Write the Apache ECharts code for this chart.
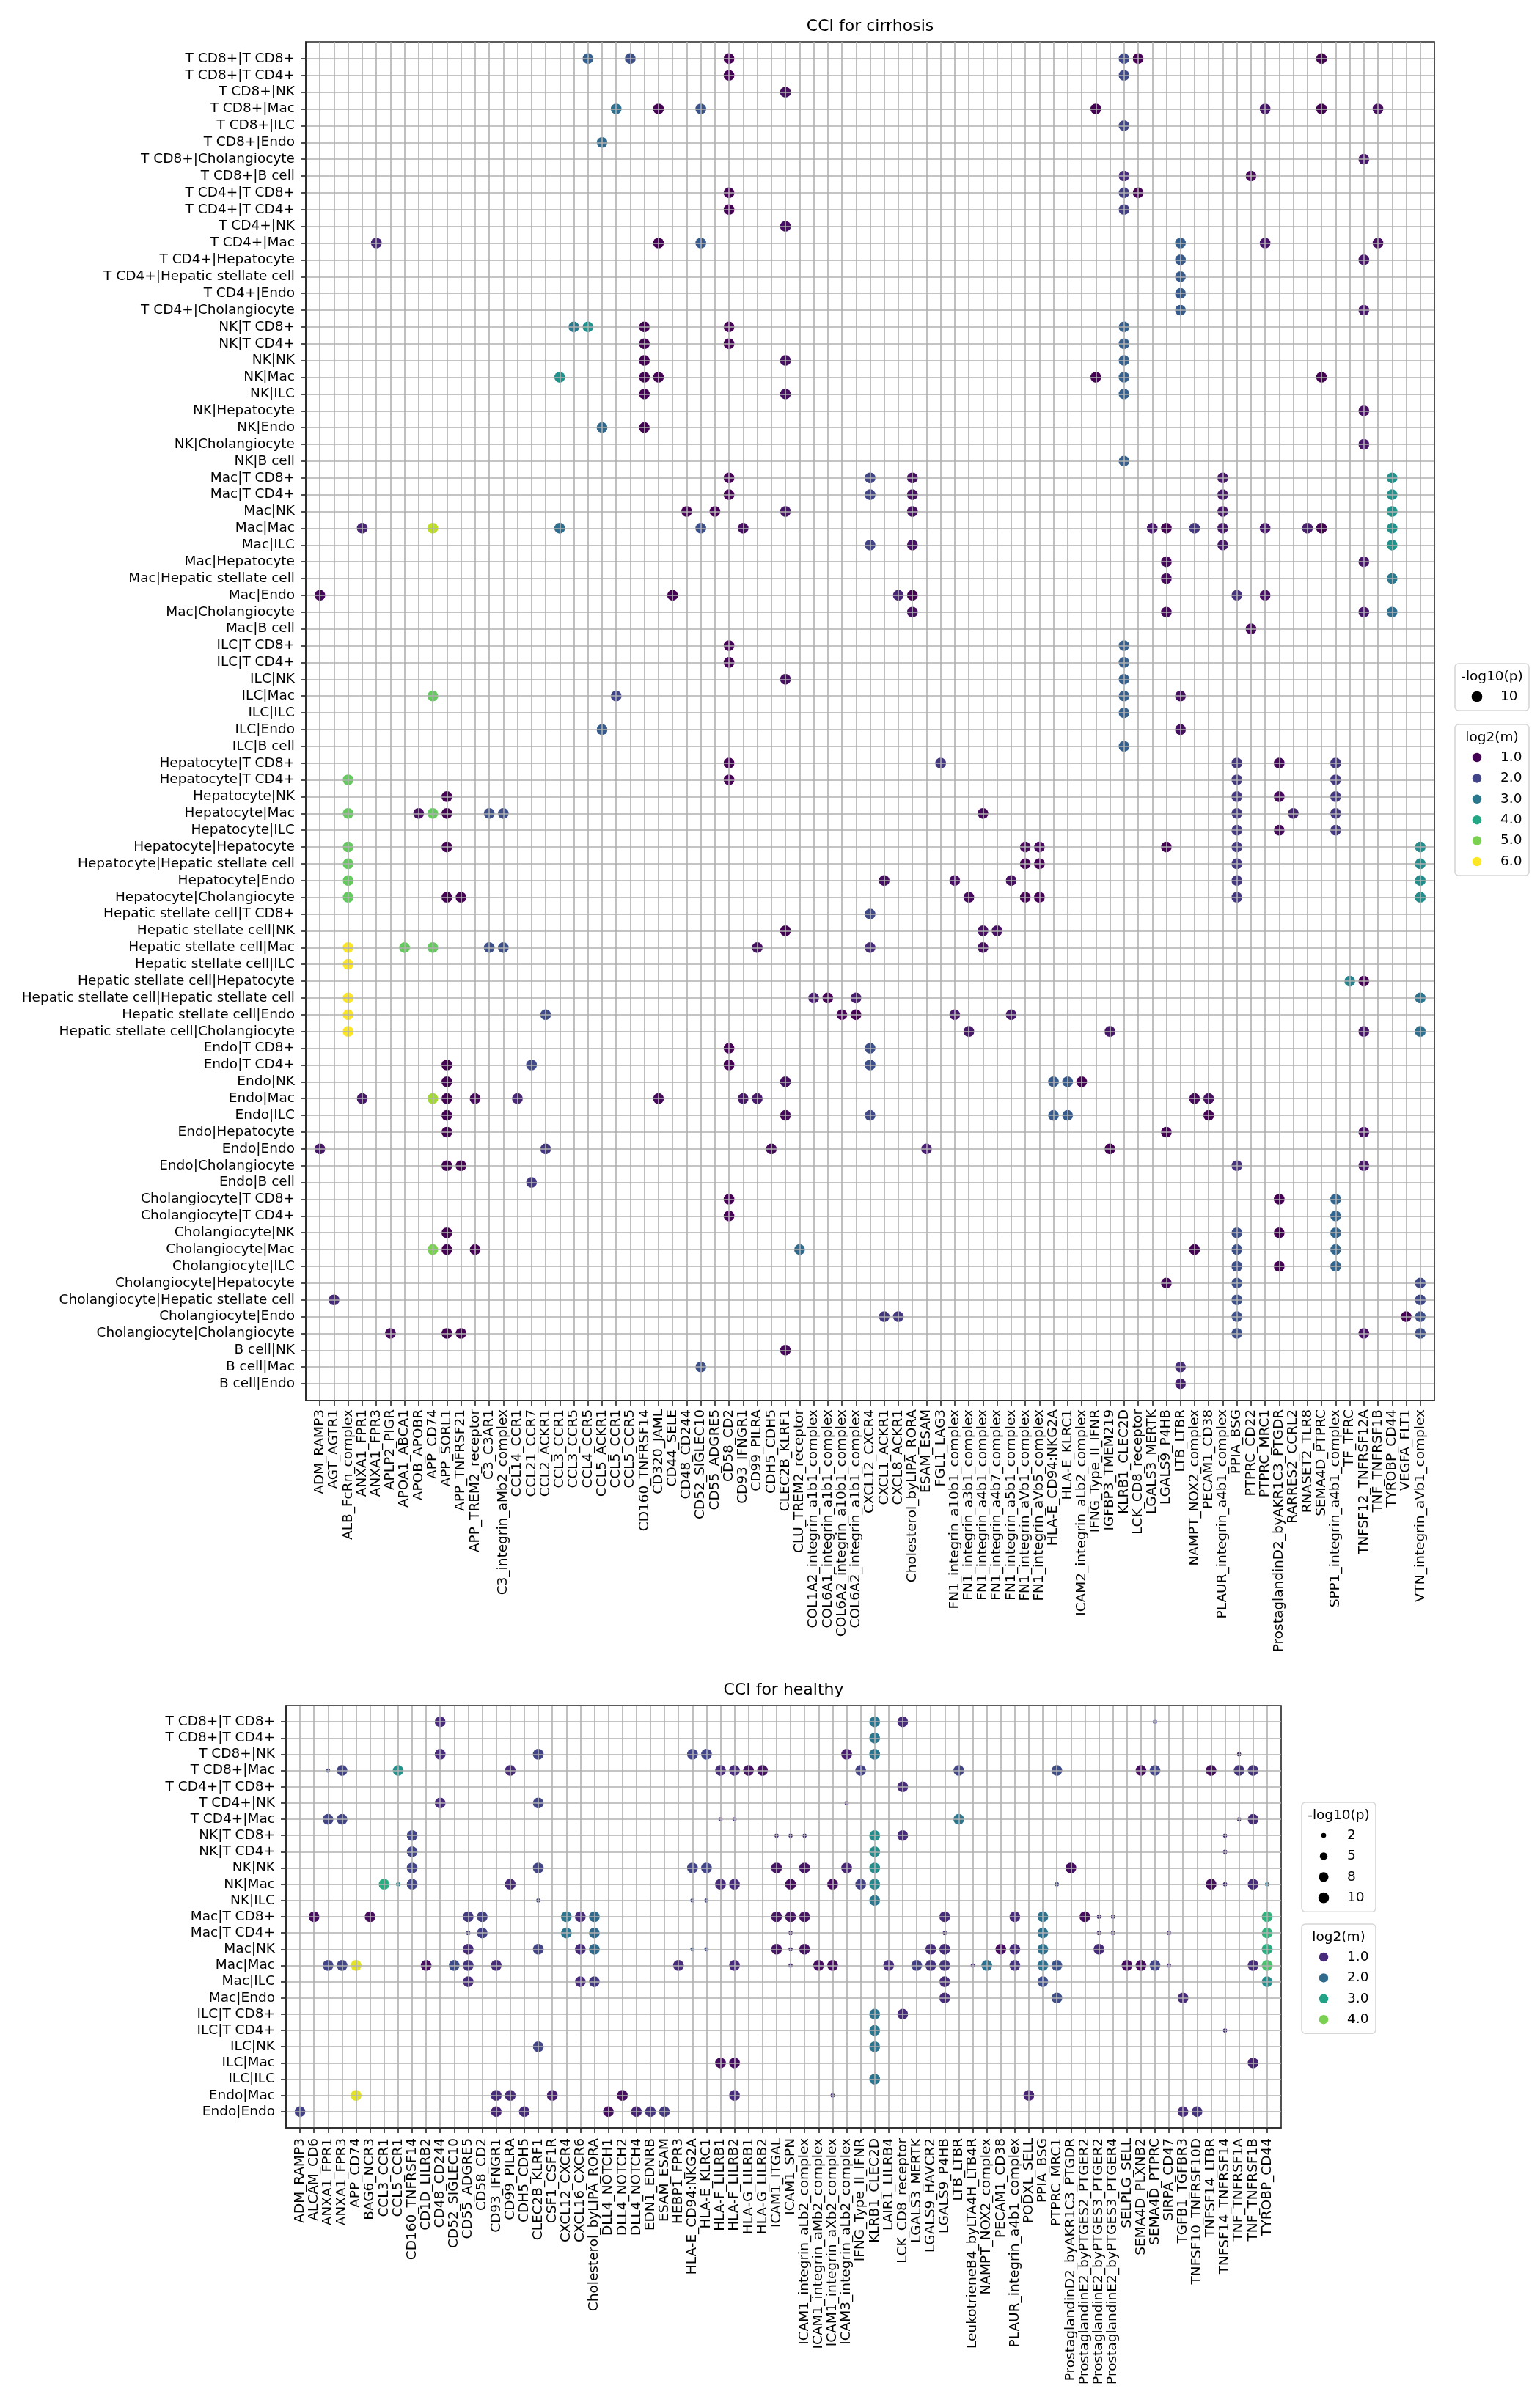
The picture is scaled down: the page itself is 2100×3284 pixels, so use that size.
<!DOCTYPE html>
<html>
<head>
<meta charset="utf-8">
<script src="https://cdn.jsdelivr.net/npm/echarts/dist/echarts.min.js"></script>
<style>
html, body { margin: 0; padding: 0; background: #fff; }
#chart { width: 2100px; height: 3284px; }
</style>
</head>
<body>
<div id="chart"></div>
<script>
// ---- cirrhosis panel ----
var cirrhosisPairs = [
  'T CD8+|T CD8+','T CD8+|T CD4+','T CD8+|NK','T CD8+|Mac','T CD8+|ILC','T CD8+|Endo','T CD8+|Cholangiocyte','T CD8+|B cell',
  'T CD4+|T CD8+','T CD4+|T CD4+','T CD4+|NK','T CD4+|Mac','T CD4+|Hepatocyte','T CD4+|Hepatic stellate cell','T CD4+|Endo','T CD4+|Cholangiocyte',
  'NK|T CD8+','NK|T CD4+','NK|NK','NK|Mac','NK|ILC','NK|Hepatocyte','NK|Endo','NK|Cholangiocyte','NK|B cell',
  'Mac|T CD8+','Mac|T CD4+','Mac|NK','Mac|Mac','Mac|ILC','Mac|Hepatocyte','Mac|Hepatic stellate cell','Mac|Endo','Mac|Cholangiocyte','Mac|B cell',
  'ILC|T CD8+','ILC|T CD4+','ILC|NK','ILC|Mac','ILC|ILC','ILC|Endo','ILC|B cell',
  'Hepatocyte|T CD8+','Hepatocyte|T CD4+','Hepatocyte|NK','Hepatocyte|Mac','Hepatocyte|ILC','Hepatocyte|Hepatocyte','Hepatocyte|Hepatic stellate cell','Hepatocyte|Endo','Hepatocyte|Cholangiocyte',
  'Hepatic stellate cell|T CD8+','Hepatic stellate cell|NK','Hepatic stellate cell|Mac','Hepatic stellate cell|ILC','Hepatic stellate cell|Hepatocyte','Hepatic stellate cell|Hepatic stellate cell','Hepatic stellate cell|Endo','Hepatic stellate cell|Cholangiocyte',
  'Endo|T CD8+','Endo|T CD4+','Endo|NK','Endo|Mac','Endo|ILC','Endo|Hepatocyte','Endo|Endo','Endo|Cholangiocyte','Endo|B cell',
  'Cholangiocyte|T CD8+','Cholangiocyte|T CD4+','Cholangiocyte|NK','Cholangiocyte|Mac','Cholangiocyte|ILC','Cholangiocyte|Hepatocyte','Cholangiocyte|Hepatic stellate cell','Cholangiocyte|Endo','Cholangiocyte|Cholangiocyte',
  'B cell|NK','B cell|Mac','B cell|Endo'
];
var cirrhosisLR = [
  'ADM_RAMP3','AGT_AGTR1','ALB_FcRn_complex','ANXA1_FPR1','ANXA1_FPR3','APLP2_PIGR','APOA1_ABCA1','APOB_APOBR','APP_CD74','APP_SORL1',
  'APP_TNFRSF21','APP_TREM2_receptor','C3_C3AR1','C3_integrin_aMb2_complex','CCL14_CCR1','CCL21_CCR7','CCL2_ACKR1','CCL3_CCR1','CCL3_CCR5','CCL4_CCR5',
  'CCL5_ACKR1','CCL5_CCR1','CCL5_CCR5','CD160_TNFRSF14','CD320_JAML','CD44_SELE','CD48_CD244','CD52_SIGLEC10','CD55_ADGRE5','CD58_CD2',
  'CD93_IFNGR1','CD99_PILRA','CDH5_CDH5','CLEC2B_KLRF1','CLU_TREM2_receptor','COL1A2_integrin_a1b1_complex','COL6A1_integrin_a1b1_complex','COL6A2_integrin_a10b1_complex','COL6A2_integrin_a1b1_complex','CXCL12_CXCR4',
  'CXCL1_ACKR1','CXCL8_ACKR1','Cholesterol_byLIPA_RORA','ESAM_ESAM','FGL1_LAG3','FN1_integrin_a10b1_complex','FN1_integrin_a3b1_complex','FN1_integrin_a4b1_complex','FN1_integrin_a4b7_complex','FN1_integrin_a5b1_complex',
  'FN1_integrin_aVb1_complex','FN1_integrin_aVb5_complex','HLA-E_CD94:NKG2A','HLA-E_KLRC1','ICAM2_integrin_aLb2_complex','IFNG_Type_II_IFNR','IGFBP3_TMEM219','KLRB1_CLEC2D','LCK_CD8_receptor','LGALS3_MERTK',
  'LGALS9_P4HB','LTB_LTBR','NAMPT_NOX2_complex','PECAM1_CD38','PLAUR_integrin_a4b1_complex','PPIA_BSG','PTPRC_CD22','PTPRC_MRC1','ProstaglandinD2_byAKR1C3_PTGDR','RARRES2_CCRL2',
  'RNASET2_TLR8','SEMA4D_PTPRC','SPP1_integrin_a4b1_complex','TF_TFRC','TNFSF12_TNFRSF12A','TNF_TNFRSF1B','TYROBP_CD44','VEGFA_FLT1','VTN_integrin_aVb1_complex'
];
// [pair no., ligand-receptor no., log2(m)]  (1-based, -log10(p) is 10 everywhere)
var cirrhosisDots = [
  [1,20,2.5],[1,23,2.2],[1,30,1.0],[1,58,2.1],[1,59,1.0],[1,72,1.0],
  [2,30,1.0],[2,58,2.1],
  [3,34,1.2],
  [4,22,2.8],[4,25,1.0],[4,28,2.3],[4,56,1.0],[4,68,1.3],[4,72,1.0],[4,76,1.2],
  [5,58,2.0],
  [6,21,2.7],
  [7,75,1.3],
  [8,58,1.6],[8,67,1.1],
  [9,30,1.0],[9,58,1.9],[9,59,1.0],
  [10,30,1.0],[10,58,1.9],
  [11,34,1.2],
  [12,5,1.5],[12,25,1.0],[12,28,2.4],[12,62,2.5],[12,68,1.3],[12,76,1.2],
  [13,62,2.4],[13,75,1.3],
  [14,62,2.4],
  [15,62,2.4],
  [16,62,2.4],[16,75,1.3],
  [17,19,3.0],[17,20,3.5],[17,24,1.0],[17,30,1.0],[17,58,2.5],
  [18,24,1.0],[18,30,1.0],[18,58,2.5],
  [19,24,1.0],[19,34,1.2],[19,58,2.5],
  [20,18,3.5],[20,24,1.0],[20,25,1.0],[20,56,1.0],[20,58,2.5],[20,72,1.0],
  [21,24,1.0],[21,34,1.2],[21,58,2.5],
  [22,75,1.2],
  [23,21,2.7],[23,24,1.0],
  [24,75,1.3],
  [25,58,2.5],
  [26,30,1.0],[26,40,2.0],[26,43,1.2],[26,65,1.3],[26,77,3.5],
  [27,30,1.0],[27,40,2.0],[27,43,1.2],[27,65,1.3],[27,77,3.5],
  [28,27,1.0],[28,29,1.0],[28,34,1.3],[28,43,1.2],[28,65,1.3],[28,77,3.5],
  [29,4,1.5],[29,9,5.5],[29,18,2.8],[29,28,2.2],[29,31,1.2],[29,60,1.3],[29,61,1.0],[29,63,1.8],[29,65,1.3],[29,68,1.3],[29,71,1.4],[29,72,1.0],[29,77,3.5],
  [30,40,2.0],[30,43,1.2],[30,65,1.3],[30,77,3.5],
  [31,61,1.1],[31,75,1.3],
  [32,61,1.1],[32,77,3.0],
  [33,1,1.1],[33,26,1.0],[33,42,1.5],[33,43,1.0],[33,66,1.7],[33,68,1.2],
  [34,43,1.2],[34,61,1.1],[34,75,1.3],[34,77,2.8],
  [35,67,1.1],
  [36,30,1.0],[36,58,2.5],
  [37,30,1.0],[37,58,2.5],
  [38,34,1.2],[38,58,2.5],
  [39,9,4.8],[39,22,2.0],[39,58,2.5],[39,62,1.2],
  [40,58,2.5],
  [41,21,2.4],[41,62,1.2],
  [42,58,2.5],
  [43,30,1.0],[43,45,1.8],[43,66,1.8],[43,69,1.1],[43,73,1.8],
  [44,3,4.8],[44,30,1.0],[44,66,1.8],[44,73,1.8],
  [45,10,1.0],[45,66,1.8],[45,69,1.1],[45,73,1.8],
  [46,3,4.8],[46,8,1.2],[46,9,4.8],[46,10,1.0],[46,13,2.2],[46,14,2.2],[46,48,1.1],[46,66,1.8],[46,70,1.5],[46,73,1.8],
  [47,66,1.8],[47,69,1.1],[47,73,1.8],
  [48,3,4.8],[48,10,1.0],[48,51,1.1],[48,52,1.1],[48,61,1.0],[48,66,1.8],[48,79,3.4],
  [49,3,4.8],[49,51,1.0],[49,52,1.0],[49,66,1.8],[49,79,3.4],
  [50,3,4.8],[50,41,1.2],[50,46,1.2],[50,50,1.2],[50,66,1.8],[50,79,3.4],
  [51,3,4.8],[51,10,1.0],[51,11,1.0],[51,47,1.1],[51,51,1.0],[51,52,1.0],[51,66,1.8],[51,79,3.4],
  [52,40,2.1],
  [53,34,1.0],[53,48,1.2],[53,49,1.2],
  [54,3,6.0],[54,7,4.8],[54,9,4.8],[54,13,2.2],[54,14,2.2],[54,32,1.2],[54,40,1.6],[54,48,1.2],
  [55,3,6.0],
  [56,74,3.2],[56,75,1.0],
  [57,3,6.0],[57,36,1.4],[57,37,1.0],[57,39,1.4],[57,79,2.9],
  [58,3,6.0],[58,17,2.1],[58,38,1.0],[58,39,1.0],[58,46,1.3],[58,50,1.3],
  [59,3,6.0],[59,47,1.3],[59,57,1.3],[59,75,1.3],[59,79,2.8],
  [60,30,1.0],[60,40,2.2],
  [61,10,1.0],[61,16,2.1],[61,30,1.0],[61,40,2.2],
  [62,10,1.0],[62,34,1.2],[62,53,2.4],[62,54,2.4],[62,55,1.0],
  [63,4,1.3],[63,9,5.3],[63,10,1.0],[63,12,1.1],[63,15,1.5],[63,25,1.1],[63,31,1.3],[63,32,1.3],[63,63,1.1],[63,64,1.2],
  [64,10,1.0],[64,34,1.1],[64,40,2.1],[64,53,2.4],[64,54,2.4],[64,64,1.0],
  [65,10,1.0],[65,61,1.0],[65,75,1.2],
  [66,1,1.3],[66,17,1.8],[66,33,1.1],[66,44,1.4],[66,57,1.0],
  [67,10,1.0],[67,11,1.0],[67,66,1.7],[67,75,1.3],
  [68,16,1.8],
  [69,30,1.0],[69,69,1.0],[69,73,2.6],
  [70,30,1.0],[70,73,2.6],
  [71,10,1.0],[71,66,2.2],[71,69,1.0],[71,73,2.6],
  [72,9,5.0],[72,10,1.0],[72,12,1.0],[72,35,2.7],[72,63,1.0],[72,66,2.2],[72,73,2.6],
  [73,66,2.2],[73,69,1.0],[73,73,2.6],
  [74,61,1.1],[74,66,2.2],[74,79,2.1],
  [75,2,1.6],[75,66,2.2],[75,79,2.1],
  [76,41,1.8],[76,42,1.8],[76,66,2.2],[76,78,1.0],[76,79,2.2],
  [77,6,1.1],[77,10,1.0],[77,11,1.0],[77,66,2.2],[77,75,1.2],[77,79,2.2],
  [78,34,1.1],
  [79,28,2.2],[79,62,1.6],
  [80,62,1.4]
];
var cirrhosisP = 10;
var cirrhosisSizeTicks = [10];
var cirrhosisColorTicks = [1.0, 2.0, 3.0, 4.0, 5.0, 6.0];

// ---- healthy panel ----
var healthyPairs = [
  'T CD8+|T CD8+','T CD8+|T CD4+','T CD8+|NK','T CD8+|Mac','T CD4+|T CD8+','T CD4+|NK','T CD4+|Mac',
  'NK|T CD8+','NK|T CD4+','NK|NK','NK|Mac','NK|ILC',
  'Mac|T CD8+','Mac|T CD4+','Mac|NK','Mac|Mac','Mac|ILC','Mac|Endo',
  'ILC|T CD8+','ILC|T CD4+','ILC|NK','ILC|Mac','ILC|ILC',
  'Endo|Mac','Endo|Endo'
];
var healthyLR = [
  'ADM_RAMP3','ALCAM_CD6','ANXA1_FPR1','ANXA1_FPR3','APP_CD74','BAG6_NCR3','CCL3_CCR1','CCL5_CCR1','CD160_TNFRSF14','CD1D_LILRB2',
  'CD48_CD244','CD52_SIGLEC10','CD55_ADGRE5','CD58_CD2','CD93_IFNGR1','CD99_PILRA','CDH5_CDH5','CLEC2B_KLRF1','CSF1_CSF1R','CXCL12_CXCR4',
  'CXCL16_CXCR6','Cholesterol_byLIPA_RORA','DLL4_NOTCH1','DLL4_NOTCH2','DLL4_NOTCH4','EDN1_EDNRB','ESAM_ESAM','HEBP1_FPR3','HLA-E_CD94:NKG2A','HLA-E_KLRC1',
  'HLA-F_LILRB1','HLA-F_LILRB2','HLA-G_LILRB1','HLA-G_LILRB2','ICAM1_ITGAL','ICAM1_SPN','ICAM1_integrin_aLb2_complex','ICAM1_integrin_aMb2_complex','ICAM1_integrin_aXb2_complex','ICAM3_integrin_aLb2_complex',
  'IFNG_Type_II_IFNR','KLRB1_CLEC2D','LAIR1_LILRB4','LCK_CD8_receptor','LGALS3_MERTK','LGALS9_HAVCR2','LGALS9_P4HB','LTB_LTBR','LeukotrieneB4_byLTA4H_LTB4R','NAMPT_NOX2_complex',
  'PECAM1_CD38','PLAUR_integrin_a4b1_complex','PODXL_SELL','PPIA_BSG','PTPRC_MRC1','ProstaglandinD2_byAKR1C3_PTGDR','ProstaglandinE2_byPTGES2_PTGER2','ProstaglandinE2_byPTGES3_PTGER2','ProstaglandinE2_byPTGES3_PTGER4','SELPLG_SELL',
  'SEMA4D_PLXNB2','SEMA4D_PTPRC','SIRPA_CD47','TGFB1_TGFBR3','TNFSF10_TNFRSF10D','TNFSF14_LTBR','TNFSF14_TNFRSF14','TNF_TNFRSF1A','TNF_TNFRSF1B','TYROBP_CD44'
];
// [pair no., ligand-receptor no., log2(m), -log10(p)]
var healthyDots = [
  [1,11,1.0,10],[1,42,2.2,10],[1,44,1.0,10],[1,62,1.3,1.5],
  [2,42,2.2,10],
  [3,11,1.0,10],[3,18,1.35,10],[3,29,1.35,10],[3,30,1.35,10],[3,40,0.8,10],[3,42,2.2,10],[3,68,1.0,1.5],
  [4,3,1.35,1.5],[4,4,1.35,10],[4,8,2.7,10],[4,16,1.0,10],[4,31,1.0,10],[4,32,1.0,10],[4,33,0.7,10],[4,34,0.7,10],[4,41,1.3,10],
  [4,48,1.35,10],[4,55,1.5,10],[4,61,0.6,10],[4,62,1.35,10],[4,66,0.6,10],[4,68,1.1,10],[4,69,1.1,10],
  [5,44,1.0,10],
  [6,11,1.0,10],[6,18,1.35,10],[6,40,1.0,1.5],
  [7,3,1.35,10],[7,4,1.35,10],[7,31,1.0,1.5],[7,32,1.0,1.5],[7,48,2.2,10],[7,68,1.0,1.5],[7,69,1.0,10],
  [8,9,1.35,10],[8,35,1.0,1.5],[8,36,1.0,1.5],[8,37,1.0,1.5],[8,42,2.6,10],[8,44,1.0,10],[8,67,1.0,1.5],
  [9,9,1.35,10],[9,42,2.6,10],[9,67,1.0,1.5],
  [10,9,1.35,10],[10,18,1.35,10],[10,29,1.35,10],[10,30,1.35,10],[10,35,0.7,10],[10,37,0.7,10],[10,40,0.9,10],[10,42,2.6,10],[10,56,0.6,10],
  [11,7,3.2,10],[11,8,2.6,1.5],[11,9,1.35,10],[11,16,1.0,10],[11,31,1.0,10],[11,32,1.0,10],[11,36,0.6,10],[11,39,0.6,10],[11,41,1.3,10],
  [11,42,2.5,10],[11,55,1.5,1.5],[11,66,0.6,10],[11,67,1.0,1.5],[11,69,1.0,10],[11,70,2.2,1.5],
  [12,18,1.35,1.5],[12,29,1.35,1.5],[12,30,1.35,1.5],[12,42,2.2,10],
  [13,2,0.6,10],[13,6,0.6,10],[13,13,1.2,10],[13,14,1.3,10],[13,20,2.2,10],[13,21,1.0,10],[13,22,2.0,10],[13,35,0.7,10],[13,36,0.7,10],
  [13,37,0.7,10],[13,47,1.0,10],[13,52,1.0,10],[13,54,2.1,10],[13,57,0.6,10],[13,58,1.0,1.5],[13,59,1.0,1.5],[13,70,3.3,10],
  [14,13,1.2,1.5],[14,14,1.3,10],[14,20,2.2,10],[14,22,2.0,10],[14,36,1.0,1.5],[14,47,1.0,1.5],[14,54,2.1,10],[14,58,1.0,1.5],
  [14,59,1.0,1.5],[14,63,1.0,1.5],[14,70,3.3,10],
  [15,13,1.0,10],[15,18,1.35,10],[15,21,1.0,10],[15,22,2.0,10],[15,29,1.6,1.5],[15,30,1.6,1.5],[15,35,0.7,10],[15,36,1.0,1.5],
  [15,37,0.7,10],[15,46,1.0,10],[15,47,1.0,10],[15,51,0.6,10],[15,52,1.0,10],[15,54,2.1,10],[15,58,1.0,10],[15,70,3.2,10],
  [16,3,1.35,10],[16,4,1.35,10],[16,5,4.7,10],[16,10,0.6,10],[16,12,1.5,10],[16,13,1.1,10],[16,15,1.0,10],[16,28,1.0,10],[16,32,1.0,10],
  [16,36,1.0,1.5],[16,38,0.6,10],[16,39,0.6,10],[16,43,1.0,10],[16,45,1.3,10],[16,46,1.1,10],[16,47,1.1,10],[16,49,1.0,1.5],[16,50,2.1,10],
  [16,52,1.1,10],[16,54,2.1,10],[16,55,1.6,10],[16,60,0.6,10],[16,61,0.6,10],[16,62,1.35,10],[16,63,1.0,1.5],[16,69,1.0,10],[16,70,3.6,10],
  [17,13,1.0,10],[17,21,1.0,10],[17,22,1.2,10],[17,47,1.0,10],[17,54,1.5,10],[17,70,2.6,10],
  [18,47,1.0,10],[18,55,1.5,10],[18,64,1.0,10],
  [19,42,2.2,10],[19,44,1.0,10],
  [20,42,2.2,10],[20,67,1.0,1.5],
  [21,18,1.35,10],[21,42,2.2,10],
  [22,31,0.6,10],[22,32,0.6,10],[22,69,0.9,10],
  [23,42,2.2,10],
  [24,5,4.7,10],[24,15,1.0,10],[24,16,1.0,10],[24,19,0.8,10],[24,24,0.6,10],[24,32,1.0,10],[24,39,1.0,1.5],[24,53,0.9,10],
  [25,1,1.3,10],[25,15,0.9,10],[25,17,1.0,10],[25,23,0.6,10],[25,25,0.9,10],[25,26,1.1,10],[25,27,1.2,10],[25,64,1.0,10],[25,65,1.1,10]
];
var healthySizeTicks = [2, 5, 8, 10];
var healthyColorTicks = [1.0, 2.0, 3.0, 4.0];

// colour scale ranges
var cirrhosisRange = [1.0, 6.0];
var healthyRange = [0.47, 4.88];

var viridis = ['#440154','#482475','#414487','#355f8d','#2a788e','#21918c','#22a884','#44bf70','#7ad151','#bddf26','#fde725'];
var FONT = '"DejaVu Sans", "Liberation Sans", sans-serif';

function hexRgb(h) {
  return [parseInt(h.substr(1, 2), 16), parseInt(h.substr(3, 2), 16), parseInt(h.substr(5, 2), 16)];
}
function viridisAt(v, range) {
  var t = (v - range[0]) / (range[1] - range[0]);
  t = Math.max(0, Math.min(1, t)) * (viridis.length - 1);
  var i = Math.min(Math.floor(t), viridis.length - 2);
  var f = t - i;
  var a = hexRgb(viridis[i]), b = hexRgb(viridis[i + 1]);
  return 'rgb(' + [0, 1, 2].map(function (k) { return Math.round(a[k] + (b[k] - a[k]) * f); }).join(',') + ')';
}
function dotSize(p) {
  return 14.7 * Math.sqrt(p / 10);
}

function xAxisFor(gi, names, margin) {
  return {
    type: 'category', gridIndex: gi, data: [''].concat(names, ['']), boundaryGap: false, z: 3,
    axisLine: { show: true, lineStyle: { color: '#262626', width: 1.6 } },
    axisTick: { show: true, length: 7, interval: function (i, v) { return v !== ''; }, lineStyle: { color: '#262626', width: 1.6 } },
    axisLabel: { interval: 0, rotate: 90, fontFamily: FONT, fontSize: 18.5, color: '#000', margin: margin },
    splitLine: { show: true, interval: function (i, v) { return v !== ''; }, lineStyle: { color: '#b0b0b0', width: 1.6 } }
  };
}
function yAxisFor(gi, names) {
  return {
    type: 'category', gridIndex: gi, data: [''].concat(names, ['']), boundaryGap: false, inverse: true, z: 3,
    axisLine: { show: true, lineStyle: { color: '#262626', width: 1.6 } },
    axisTick: { show: true, length: 7, interval: function (i, v) { return v !== ''; }, lineStyle: { color: '#262626', width: 1.6 } },
    axisLabel: { interval: 0, fontFamily: FONT, fontSize: 18.5, color: '#000', margin: 15 },
    splitLine: { show: true, interval: function (i, v) { return v !== ''; }, lineStyle: { color: '#b0b0b0', width: 1.6 } }
  };
}

// matplotlib-like legend box
function legendBox(x, y, title, items) {
  var w = 101, step = 28.4;
  var h = 45 + (items.length - 1) * step + 19;
  var els = [{
    type: 'rect', shape: { x: x, y: y, width: w, height: h, r: 5 },
    style: { fill: '#fff', stroke: '#d6d6d6', lineWidth: 1.6 }, z: 10
  }, {
    type: 'text', z: 11,
    style: { x: x + w / 2, y: y + 18, text: title, font: '18.5px ' + FONT, fill: '#000', align: 'center', verticalAlign: 'middle', textAlign: 'center', textVerticalAlign: 'middle' }
  }];
  items.forEach(function (it, i) {
    var cy = y + 45 + i * step;
    els.push({ type: 'circle', z: 11, shape: { cx: x + 30, cy: cy, r: it.size / 2 }, style: { fill: it.color } });
    els.push({
      type: 'text', z: 11,
      style: { x: x + 62, y: cy, text: it.label, font: '18.5px ' + FONT, fill: '#000', align: 'left', verticalAlign: 'middle', textAlign: 'left', textVerticalAlign: 'middle' }
    });
  });
  return els;
}

function titleText(cx, y, text) {
  return {
    type: 'text', z: 11,
    style: { x: cx, y: y, text: text, font: '22px ' + FONT, fill: '#000', align: 'center', verticalAlign: 'bottom', textAlign: 'center', textVerticalAlign: 'bottom' }
  };
}

var g1 = { left: 417, top: 57, width: 1539, height: 1853 };
var g2 = { left: 390, top: 2326, width: 1357, height: 576 };

var cirrhosisData = cirrhosisDots.map(function (d) {
  return [cirrhosisLR[d[1] - 1], cirrhosisPairs[d[0] - 1], d[2], cirrhosisP];
});
var healthyData = healthyDots.map(function (d) {
  return [healthyLR[d[1] - 1], healthyPairs[d[0] - 1], d[2], d[3]];
});

var graphics = [];
graphics.push(titleText(g1.left + g1.width / 2, g1.top - 10, 'CCI for cirrhosis'));
graphics.push(titleText(g2.left + g2.width / 2, g2.top - 10, 'CCI for healthy'));
graphics = graphics.concat(legendBox(1984, 905, '-log10(p)', cirrhosisSizeTicks.map(function (p) {
  return { label: String(p), size: dotSize(p), color: '#000' };
})));
graphics = graphics.concat(legendBox(1984, 988, 'log2(m)', cirrhosisColorTicks.map(function (m) {
  return { label: m.toFixed(1), size: 12.5, color: viridisAt(m, cirrhosisRange) };
})));
graphics = graphics.concat(legendBox(1775, 2458, '-log10(p)', healthySizeTicks.map(function (p) {
  return { label: String(p), size: dotSize(p), color: '#000' };
})));
graphics = graphics.concat(legendBox(1775, 2624, 'log2(m)', healthyColorTicks.map(function (m) {
  return { label: m.toFixed(1), size: 12.5, color: viridisAt(m, healthyRange) };
})));

var chart = echarts.init(document.getElementById('chart'), null, { renderer: 'canvas' });
var option = {
  backgroundColor: '#fff',
  animation: false,
  grid: [
    { left: g1.left, top: g1.top, width: g1.width, height: g1.height, show: true, borderColor: '#262626', borderWidth: 1.6 },
    { left: g2.left, top: g2.top, width: g2.width, height: g2.height, show: true, borderColor: '#262626', borderWidth: 1.6 }
  ],
  xAxis: [xAxisFor(0, cirrhosisLR, 12), xAxisFor(1, healthyLR, 14)],
  yAxis: [yAxisFor(0, cirrhosisPairs), yAxisFor(1, healthyPairs)],
  visualMap: [
    { type: 'continuous', show: false, seriesIndex: 0, dimension: 2, min: cirrhosisRange[0], max: cirrhosisRange[1], inRange: { color: viridis } },
    { type: 'continuous', show: false, seriesIndex: 1, dimension: 2, min: healthyRange[0], max: healthyRange[1], inRange: { color: viridis } }
  ],
  series: [
    {
      name: 'cirrhosis', type: 'scatter', xAxisIndex: 0, yAxisIndex: 0, z: 2,
      data: cirrhosisData,
      symbolSize: function (v) { return dotSize(v[3]); },
      itemStyle: { opacity: 1 }
    },
    {
      name: 'healthy', type: 'scatter', xAxisIndex: 1, yAxisIndex: 1, z: 2,
      data: healthyData,
      symbolSize: function (v) { return dotSize(v[3]); },
      itemStyle: { opacity: 1 }
    }
  ],
  graphic: graphics
};
chart.setOption(option);
</script>
</body>
</html>
